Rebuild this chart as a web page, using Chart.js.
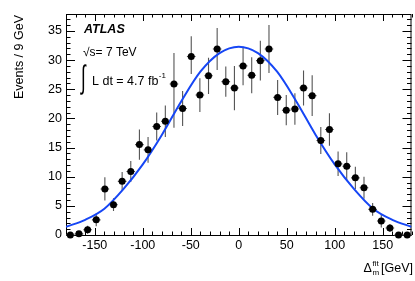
<!DOCTYPE html>
<html>
<head>
<meta charset="utf-8">
<script src="https://cdn.jsdelivr.net/npm/chart.js@4.4.1/dist/chart.umd.min.js"></script>
<style>
  html, body { margin: 0; padding: 0; background: #fff; }
  #wrap { width: 415px; height: 281px; }
</style>
</head>
<body>
<div id="wrap"><canvas id="massChart" width="415" height="281"></canvas></div>
<script>
// bin centres of the 9 GeV bins
const binCenters = [-175.5, -166.5, -157.5, -148.5, -139.5, -130.5, -121.5, -112.5, -103.5, -94.5,
                    -85.5, -76.5, -67.5, -58.5, -49.5, -40.5, -31.5, -22.5, -13.5, -4.5,
                    4.5, 13.5, 22.5, 31.5, 40.5, 49.5, 58.5, 67.5, 76.5, 85.5,
                    94.5, 103.5, 112.5, 121.5, 130.5, 139.5, 148.5, 157.5, 166.5, 175.5];
const events = [0, 0.2, 0.9, 2.6, 7.9, 5.2, 9.2, 10.9, 15.5, 14.6,
                18.6, 19.5, 25.9, 21.7, 30.6, 24.0, 27.3, 31.9, 26.3, 25.2,
                29.0, 27.4, 29.9, 31.9, 23.6, 21.4, 21.6, 25.2, 23.9, 16.2,
                18.1, 12.2, 11.8, 9.8, 8.1, 4.4, 2.4, 1.2, 0, 0];
const errUp = [0, 0.2, 0.7, 1.1, 2.0, 1.1, 1.6, 1.8, 2.6, 2.2,
               2.4, 2.7, 5.3, 3.0, 3.5, 2.9, 3.1, 3.6, 2.6, 3.8,
               3.3, 3.1, 3.4, 4.1, 3.0, 2.6, 2.7, 3.0, 3.5, 2.3,
               2.8, 2.1, 2.4, 1.9, 1.9, 1.1, 1.1, 0.7, 0, 0];
const errDown = [0, 0.2, 0.7, 1.1, 2.0, 1.1, 1.6, 1.8, 2.6, 2.2,
                 2.4, 2.7, 7.5, 3.0, 3.0, 2.9, 3.1, 3.6, 2.6, 3.8,
                 3.3, 3.1, 3.4, 4.1, 3.0, 2.6, 2.7, 3.0, 3.5, 2.3,
                 2.8, 2.1, 2.4, 1.9, 1.9, 1.1, 1.1, 0.7, 0, 0];

// fit curve
const fitX = [-180, -160, -140, -120, -100, -80, -60, -40, -20, 0, 20, 40, 60, 80, 100, 120, 140, 160, 180];
const fitY = [1.4, 2.6, 4.5, 7.9, 12.1, 17.2, 22.9, 28.0, 31.2, 32.3, 31.2, 28.0, 22.9, 17.2, 12.1, 7.9, 4.5, 2.6, 1.4];

const xTicks = [-150, -100, -50, 0, 50, 100, 150];
const yTicks = [0, 5, 10, 15, 20, 25, 30, 35];

const FONT = "'Liberation Sans', Arial, Helvetica, sans-serif";

// ROOT style frame with inward ticks on all four sides
const framePlugin = {
    id: 'frame',
    beforeDatasetsDraw(chart) {
        const { ctx, chartArea: a, scales: { x, y } } = chart;
        ctx.save();
        ctx.strokeStyle = '#000';
        ctx.lineWidth = 1;
        ctx.strokeRect(a.left + 0.5, a.top + 0.5, a.right - a.left - 1, a.bottom - a.top);
        ctx.beginPath();
        for (let v = -180; v <= 180; v += 10) {
            const px = Math.round(x.getPixelForValue(v)) + 0.5;
            const len = v % 50 === 0 ? 7 : 3.5;
            ctx.moveTo(px, a.bottom);
            ctx.lineTo(px, a.bottom - len);
            ctx.moveTo(px, a.top);
            ctx.lineTo(px, a.top + len);
        }
        for (let v = 0; v <= 37; v += 1) {
            const py = Math.round(y.getPixelForValue(v)) + 0.5;
            const len = v % 5 === 0 ? 9 : 4.5;
            ctx.moveTo(a.left, py);
            ctx.lineTo(a.left + len, py);
            ctx.moveTo(a.right, py);
            ctx.lineTo(a.right - len, py);
        }
        ctx.stroke();
        ctx.restore();
    }
};

const errorBars = {
    id: 'errorBars',
    beforeDatasetsDraw(chart) {
        const { ctx, scales: { x, y } } = chart;
        ctx.save();
        ctx.strokeStyle = '#555';
        ctx.lineWidth = 1.1;
        binCenters.forEach((c, i) => {
            const px = x.getPixelForValue(c);
            const py = y.getPixelForValue(events[i]);
            ctx.beginPath();
            ctx.moveTo(x.getPixelForValue(c - 4.5), py);
            ctx.lineTo(x.getPixelForValue(c + 4.5), py);
            if (errUp[i] > 0) {
                ctx.moveTo(px, y.getPixelForValue(events[i] - errDown[i]));
                ctx.lineTo(px, y.getPixelForValue(events[i] + errUp[i]));
            }
            ctx.stroke();
        });
        ctx.restore();
    }
};

const textPlugin = {
    id: 'texts',
    afterDraw(chart) {
        const { ctx } = chart;
        ctx.save();
        ctx.fillStyle = '#000';

        // y title
        ctx.save();
        ctx.translate(20, 15);
        ctx.rotate(-Math.PI / 2);
        ctx.font = `12.5px ${FONT}`;
        ctx.textAlign = 'right';
        ctx.textBaseline = 'middle';
        ctx.fillText('Events / 9 GeV', 0, 0);
        ctx.restore();

        // x title
        ctx.textBaseline = 'alphabetic';
        ctx.textAlign = 'right';
        ctx.font = `12.5px ${FONT}`;
        ctx.fillText('[GeV]', 413, 272);
        const gevW = ctx.measureText('[GeV]').width;
        ctx.font = `8px ${FONT}`;
        const subW = Math.max(ctx.measureText('fit').width, ctx.measureText('m').width);
        const subX = 413 - gevW - 2 - subW;
        ctx.textAlign = 'left';
        ctx.fillText('fit', subX, 266);
        ctx.fillText('m', subX, 275);
        ctx.font = `12.5px ${FONT}`;
        ctx.textAlign = 'right';
        ctx.fillText('\u0394', subX - 0.5, 272);

        // ATLAS label
        ctx.textAlign = 'left';
        ctx.font = `italic bold 12.5px ${FONT}`;
        ctx.fillText('ATLAS', 84, 33);
        ctx.font = `12px ${FONT}`;
        ctx.fillText('\u221As= 7 TeV', 83, 56);
        // tall, thin integral sign
        ctx.save();
        ctx.translate(81, 88);
        ctx.scale(1, 1.9);
        ctx.font = `17px ${FONT}`;
        ctx.fillText('\u222B', 0, 0);
        ctx.restore();
        ctx.font = `12.5px ${FONT}`;
        ctx.fillText('L dt = 4.7 fb', 92, 85);
        const lw = ctx.measureText('L dt = 4.7 fb').width;
        ctx.font = `8px ${FONT}`;
        ctx.fillText('-1', 92 + lw + 0.5, 78);
        ctx.restore();
    }
};

new Chart(document.getElementById('massChart'), {
    type: 'scatter',
    data: {
        datasets: [
            {
                label: 'data',
                data: binCenters.map((c, i) => ({ x: c, y: events[i] })),
                backgroundColor: '#000',
                borderColor: '#000',
                borderWidth: 0,
                pointRadius: 3.5,
                pointHoverRadius: 3.5,
                clip: false,
                order: 0
            },
            {
                label: 'fit',
                data: fitX.map((v, i) => ({ x: v, y: fitY[i] })),
                showLine: true,
                borderColor: '#1646f5',
                borderWidth: 2,
                pointRadius: 0,
                cubicInterpolationMode: 'monotone',
                fill: false,
                order: 1
            }
        ]
    },
    options: {
        responsive: false,
        animation: false,
        devicePixelRatio: 1,
        layout: { padding: { top: 14, right: 2, left: 0, bottom: 0 } },
        plugins: { legend: { display: false }, tooltip: { enabled: false } },
        scales: {
            x: {
                type: 'linear',
                min: -180,
                max: 180,
                grid: { display: false, drawTicks: false, tickLength: 0 },
                border: { display: false },
                afterBuildTicks: (s) => { s.ticks = xTicks.map(v => ({ value: v })); },
                afterFit: (s) => { s.height = 46; },
                ticks: { font: { family: FONT, size: 12.5 }, color: '#000', padding: 3, maxRotation: 0, autoSkip: false }
            },
            y: {
                type: 'linear',
                min: 0,
                max: 37.9,
                grid: { display: false, drawTicks: false, tickLength: 0 },
                border: { display: false },
                afterBuildTicks: (s) => { s.ticks = yTicks.map(v => ({ value: v })); },
                afterFit: (s) => { s.width = 66; },
                ticks: { font: { family: FONT, size: 12.5 }, color: '#000', padding: 4, autoSkip: false }
            }
        }
    },
    plugins: [framePlugin, errorBars, textPlugin]
});
</script>
</body>
</html>
